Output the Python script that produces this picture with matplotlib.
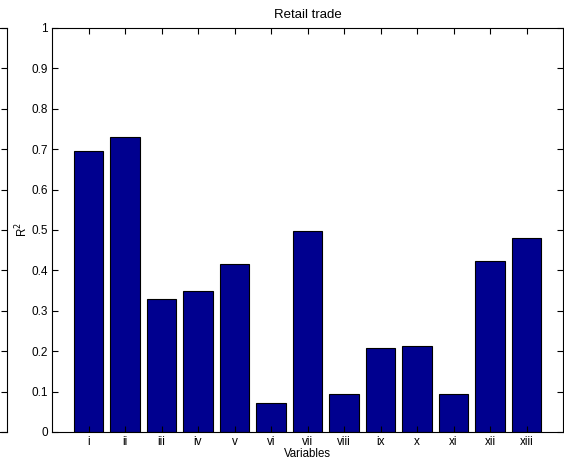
import matplotlib.pyplot as plt
import numpy as np

plt.rcParams['font.family'] = ['Liberation Sans', 'DejaVu Sans']

labels = ['i', 'ii', 'iii', 'iv', 'v', 'vi', 'vii', 'viii', 'ix', 'x', 'xi', 'xii', 'xiii']
r2 = [0.695, 0.729, 0.328, 0.348, 0.417, 0.072, 0.497, 0.093, 0.207, 0.214, 0.095, 0.423, 0.481]

W, H = 564, 466
fig = plt.figure(figsize=(W / 100, H / 100), dpi=100)

# edge of the neighbouring subplot, cut off at the left
ax0 = fig.add_axes([-0.6, (H - 432) / H, 0.6 + 7 / W, (432 - 28) / H])
ax0.patch.set_visible(False)
ax0.set_xlim(0, 1)
ax0.set_ylim(0, 1)
ax0.set_yticks(np.arange(0, 1.01, 0.1))
ax0.set_xticks([])
ax0.tick_params(direction='in', length=4, width=0.8, right=True, left=False, labelleft=False)
for s in ax0.spines.values():
    s.set_linewidth(0.8)

# main axes (MATLAB style box)
ax = fig.add_axes([52 / W, (H - 432) / H, (563 - 52) / W, (432 - 28) / H])
x = np.arange(1, len(labels) + 1)
ax.bar(x, r2, width=0.8, color='#00008F', edgecolor='black', linewidth=0.8)
ax.set_xlim(0, 14)
ax.set_ylim(0, 1)
ax.set_xticks(x)
ax.set_xticklabels(labels)
ax.set_yticks(np.arange(0, 1.01, 0.1))
ax.set_yticklabels(['0', '0.1', '0.2', '0.3', '0.4', '0.5', '0.6', '0.7', '0.8', '0.9', '1'])
ax.tick_params(direction='in', length=4, width=0.8, labelsize=8.5, top=True, right=True, pad=3)
for s in ax.spines.values():
    s.set_linewidth(0.8)
ax.set_title('Retail trade', fontsize=9.5, pad=7)
ax.set_xlabel('Variables', fontsize=8.3, labelpad=0)
ax.set_ylabel('R$^2$', fontsize=8.3)
ax.yaxis.set_label_coords((30 - 52) / 511, 0.5)

fig.savefig('out.png', dpi=100)
